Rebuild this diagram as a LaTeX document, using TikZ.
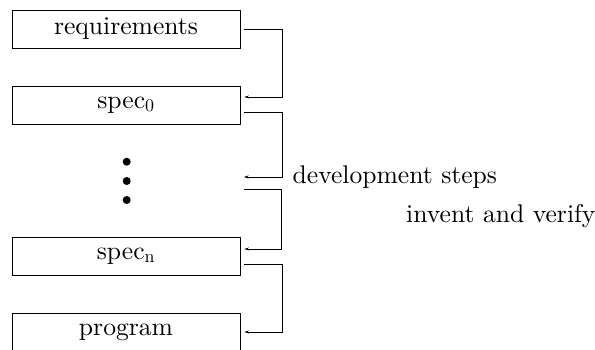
\documentclass[tikz,border=0pt]{standalone}
\usepackage{fontspec}
% the 10pt design of Latin Modern, scaled up as a whole
\setmainfont{lmroman10-regular}[Extension=.otf]
\usetikzlibrary{arrows.meta,calc}
\begin{document}
\begin{tikzpicture}[x=1pt,y=1pt,
  every node/.style={font=\fontsize{25.6}{30}\selectfont},
  stagebox/.style={draw,line width=0.9pt,rectangle,minimum width=228pt,minimum height=38pt,inner sep=0pt},
  dotmark/.style={circle,fill=black,inner sep=0pt,minimum size=8pt},
  conn/.style={line width=0.9pt,-{Stealth[length=4.5pt,width=3pt]}},
  lbl/.style={anchor=base west,inner sep=0pt}]
  \useasboundingbox (0,0) rectangle (595,-349);

  % the chain of stages
  \node[stagebox] (req)   at (126,-29)  {requirements};
  \node[stagebox] (spec0) at (126,-105) {spec\textsubscript{0}};
  \node[dotmark]  (d1)    at (126.7,-161.7) {};
  \node[dotmark]  (d2)    at (126.7,-181)   {};
  \node[dotmark]  (d3)    at (126.7,-200)   {};
  \node[stagebox] (specn) at (126,-256) {spec\textsubscript{n}};
  \node[stagebox] (prog)  at (126,-332) {program};

  % free ends of the connectors next to the dots
  \coordinate (gapin)  at (244,-177);
  \coordinate (gapout) at (244,-189);

  % development steps: each leaves a stage and enters the next one
  \draw[conn] ([xshift=4pt]req.east) -- ++(37.7,0) |- ([xshift=4pt,yshift=8pt]spec0.east);
  \draw[conn] ([xshift=4pt,yshift=-7pt]spec0.east) -- ++(37.7,0) |- (gapin);
  \draw[conn] (gapout) -- ++(37.7,0) |- ([xshift=4pt,yshift=7pt]specn.east);
  \draw[conn] ([xshift=4pt,yshift=-8pt]specn.east) -- ++(37.7,0) |- ([xshift=4pt]prog.east);

  % labels
  \node[lbl] (steps)  at (292.5,-183.5) {development steps};
  \node[lbl] (invent) at (406,-222)     {invent and verify};
\end{tikzpicture}
\end{document}
